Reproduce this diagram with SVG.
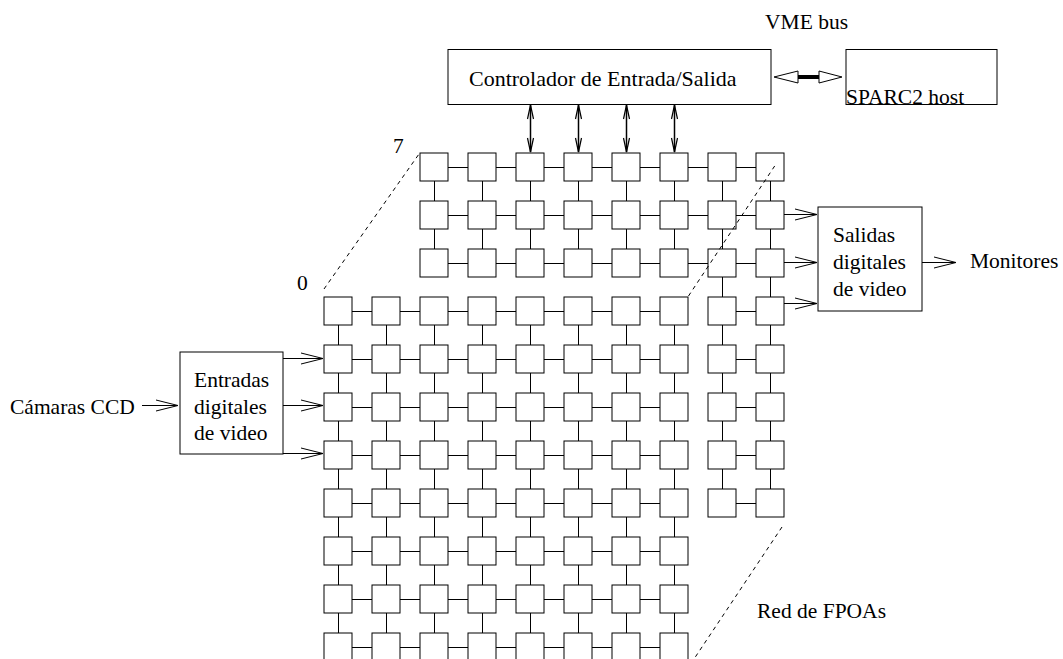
<svg xmlns="http://www.w3.org/2000/svg" width="1063" height="659" viewBox="0 0 1063 659">
  <style>
    .t { font-family: "Liberation Serif", "Times New Roman", serif; font-size: 21.5px; fill: #000; }
    .box { fill: #fff; stroke: #000; stroke-width: 1; }
    .cell { fill: #fff; stroke: #000; stroke-width: 1; }
    .link { fill: none; stroke: #000; stroke-width: 1; }
    .arrow { fill: none; stroke: #000; stroke-width: 1; marker-end: url(#open); }
    .bi { fill: none; stroke: #000; stroke-width: 1.5; marker-start: url(#tip); marker-end: url(#tip); }
    .dash { fill: none; stroke: #000; stroke-width: 1; stroke-dasharray: 4 4; }
    .head { fill: #fff; stroke: #000; stroke-width: 1; }
  </style>
  <defs>
    <marker id="open" markerWidth="24" markerHeight="14" refX="22" refY="6" orient="auto" markerUnits="userSpaceOnUse" overflow="visible">
      <path d="M0,0.5 L22,6 L0,11.5" fill="none" stroke="#000" stroke-width="1"/>
    </marker>
    <marker id="tip" markerWidth="16" markerHeight="8" refX="14" refY="3" orient="auto-start-reverse" markerUnits="userSpaceOnUse" overflow="visible">
      <path d="M0,0 L14,3 L0,6" fill="none" stroke="#000" stroke-width="1.2"/>
    </marker>
  </defs>
  <rect width="1063" height="659" fill="#fff"/>

  <!-- grid links and signal arrows -->
  <g id="connectors">
    <!-- front plane links -->
    <path class="link" d="M338,311.5H674 M338,359.5H674 M338,407.5H674 M338,455.5H674 M338,503.5H674 M338,551.5H674 M338,599.5H674 M338,647.5H674"/>
    <path class="link" d="M338.5,311V670 M386.5,311V670 M434.5,311V670 M482.5,311V670 M530.5,311V670 M578.5,311V670 M626.5,311V670 M674.5,311V670"/>
    <!-- back plane links -->
    <path class="link" d="M434,167.5H770 M434,215.5H770 M434,263.5H770 M722,311.5H770 M722,359.5H770 M722,407.5H770 M722,455.5H770 M722,503.5H770"/>
    <path class="link" d="M434.5,167V263 M482.5,167V263 M530.5,167V263 M578.5,167V263 M626.5,167V263 M674.5,167V263 M722.5,167V503 M770.5,167V503"/>

    <!-- controller to grid -->
    <line class="bi" x1="530.5" y1="105" x2="530.5" y2="152"/>
    <line class="bi" x1="578.5" y1="105" x2="578.5" y2="152"/>
    <line class="bi" x1="626.5" y1="105" x2="626.5" y2="152"/>
    <line class="bi" x1="674.5" y1="105" x2="674.5" y2="152"/>

    <!-- VME bus -->
    <line x1="797" y1="77" x2="820" y2="77" stroke="#000" stroke-width="4"/>
    <polygon class="head" points="774,77 798,71 798,83"/>
    <polygon class="head" points="842,77 819,71 819,83"/>

    <!-- inputs -->
    <line class="arrow" x1="142" y1="405.5" x2="178" y2="405.5"/>
    <line class="arrow" x1="283" y1="358.5" x2="323" y2="358.5"/>
    <line class="arrow" x1="283" y1="405.5" x2="323" y2="405.5"/>
    <line class="arrow" x1="283" y1="453.5" x2="323" y2="453.5"/>

    <!-- outputs -->
    <line class="arrow" x1="784" y1="214.5" x2="817" y2="214.5"/>
    <line class="arrow" x1="784" y1="262.5" x2="817" y2="262.5"/>
    <line class="arrow" x1="784" y1="303.5" x2="817" y2="303.5"/>
    <line class="arrow" x1="922" y1="262.5" x2="956" y2="262.5"/>
  </g>

  <!-- back plane cells -->
  <g id="back">
    <g id="b00"><rect class="cell" x="420" y="153" width="28" height="28"/></g>
    <g id="b10"><rect class="cell" x="468" y="153" width="28" height="28"/></g>
    <g id="b20"><rect class="cell" x="516" y="153" width="28" height="28"/></g>
    <g id="b30"><rect class="cell" x="564" y="153" width="28" height="28"/></g>
    <g id="b40"><rect class="cell" x="612" y="153" width="28" height="28"/></g>
    <g id="b50"><rect class="cell" x="660" y="153" width="28" height="28"/></g>
    <g id="b60"><rect class="cell" x="708" y="153" width="28" height="28"/></g>
    <g id="b70"><rect class="cell" x="756" y="153" width="28" height="28"/></g>
    <g id="b01"><rect class="cell" x="420" y="201" width="28" height="28"/></g>
    <g id="b11"><rect class="cell" x="468" y="201" width="28" height="28"/></g>
    <g id="b21"><rect class="cell" x="516" y="201" width="28" height="28"/></g>
    <g id="b31"><rect class="cell" x="564" y="201" width="28" height="28"/></g>
    <g id="b41"><rect class="cell" x="612" y="201" width="28" height="28"/></g>
    <g id="b51"><rect class="cell" x="660" y="201" width="28" height="28"/></g>
    <g id="b61"><rect class="cell" x="708" y="201" width="28" height="28"/></g>
    <g id="b71"><rect class="cell" x="756" y="201" width="28" height="28"/></g>
    <g id="b02"><rect class="cell" x="420" y="249" width="28" height="28"/></g>
    <g id="b12"><rect class="cell" x="468" y="249" width="28" height="28"/></g>
    <g id="b22"><rect class="cell" x="516" y="249" width="28" height="28"/></g>
    <g id="b32"><rect class="cell" x="564" y="249" width="28" height="28"/></g>
    <g id="b42"><rect class="cell" x="612" y="249" width="28" height="28"/></g>
    <g id="b52"><rect class="cell" x="660" y="249" width="28" height="28"/></g>
    <g id="b62"><rect class="cell" x="708" y="249" width="28" height="28"/></g>
    <g id="b72"><rect class="cell" x="756" y="249" width="28" height="28"/></g>
    <g id="b63"><rect class="cell" x="708" y="297" width="28" height="28"/></g>
    <g id="b73"><rect class="cell" x="756" y="297" width="28" height="28"/></g>
    <g id="b64"><rect class="cell" x="708" y="345" width="28" height="28"/></g>
    <g id="b74"><rect class="cell" x="756" y="345" width="28" height="28"/></g>
    <g id="b65"><rect class="cell" x="708" y="393" width="28" height="28"/></g>
    <g id="b75"><rect class="cell" x="756" y="393" width="28" height="28"/></g>
    <g id="b66"><rect class="cell" x="708" y="441" width="28" height="28"/></g>
    <g id="b76"><rect class="cell" x="756" y="441" width="28" height="28"/></g>
    <g id="b67"><rect class="cell" x="708" y="489" width="28" height="28"/></g>
    <g id="b77"><rect class="cell" x="756" y="489" width="28" height="28"/></g>
  </g>

  <!-- front plane cells -->
  <g id="front">
    <g id="f00"><rect class="cell" x="324" y="297" width="28" height="28"/></g>
    <g id="f10"><rect class="cell" x="372" y="297" width="28" height="28"/></g>
    <g id="f20"><rect class="cell" x="420" y="297" width="28" height="28"/></g>
    <g id="f30"><rect class="cell" x="468" y="297" width="28" height="28"/></g>
    <g id="f40"><rect class="cell" x="516" y="297" width="28" height="28"/></g>
    <g id="f50"><rect class="cell" x="564" y="297" width="28" height="28"/></g>
    <g id="f60"><rect class="cell" x="612" y="297" width="28" height="28"/></g>
    <g id="f70"><rect class="cell" x="660" y="297" width="28" height="28"/></g>
    <g id="f01"><rect class="cell" x="324" y="345" width="28" height="28"/></g>
    <g id="f11"><rect class="cell" x="372" y="345" width="28" height="28"/></g>
    <g id="f21"><rect class="cell" x="420" y="345" width="28" height="28"/></g>
    <g id="f31"><rect class="cell" x="468" y="345" width="28" height="28"/></g>
    <g id="f41"><rect class="cell" x="516" y="345" width="28" height="28"/></g>
    <g id="f51"><rect class="cell" x="564" y="345" width="28" height="28"/></g>
    <g id="f61"><rect class="cell" x="612" y="345" width="28" height="28"/></g>
    <g id="f71"><rect class="cell" x="660" y="345" width="28" height="28"/></g>
    <g id="f02"><rect class="cell" x="324" y="393" width="28" height="28"/></g>
    <g id="f12"><rect class="cell" x="372" y="393" width="28" height="28"/></g>
    <g id="f22"><rect class="cell" x="420" y="393" width="28" height="28"/></g>
    <g id="f32"><rect class="cell" x="468" y="393" width="28" height="28"/></g>
    <g id="f42"><rect class="cell" x="516" y="393" width="28" height="28"/></g>
    <g id="f52"><rect class="cell" x="564" y="393" width="28" height="28"/></g>
    <g id="f62"><rect class="cell" x="612" y="393" width="28" height="28"/></g>
    <g id="f72"><rect class="cell" x="660" y="393" width="28" height="28"/></g>
    <g id="f03"><rect class="cell" x="324" y="441" width="28" height="28"/></g>
    <g id="f13"><rect class="cell" x="372" y="441" width="28" height="28"/></g>
    <g id="f23"><rect class="cell" x="420" y="441" width="28" height="28"/></g>
    <g id="f33"><rect class="cell" x="468" y="441" width="28" height="28"/></g>
    <g id="f43"><rect class="cell" x="516" y="441" width="28" height="28"/></g>
    <g id="f53"><rect class="cell" x="564" y="441" width="28" height="28"/></g>
    <g id="f63"><rect class="cell" x="612" y="441" width="28" height="28"/></g>
    <g id="f73"><rect class="cell" x="660" y="441" width="28" height="28"/></g>
    <g id="f04"><rect class="cell" x="324" y="489" width="28" height="28"/></g>
    <g id="f14"><rect class="cell" x="372" y="489" width="28" height="28"/></g>
    <g id="f24"><rect class="cell" x="420" y="489" width="28" height="28"/></g>
    <g id="f34"><rect class="cell" x="468" y="489" width="28" height="28"/></g>
    <g id="f44"><rect class="cell" x="516" y="489" width="28" height="28"/></g>
    <g id="f54"><rect class="cell" x="564" y="489" width="28" height="28"/></g>
    <g id="f64"><rect class="cell" x="612" y="489" width="28" height="28"/></g>
    <g id="f74"><rect class="cell" x="660" y="489" width="28" height="28"/></g>
    <g id="f05"><rect class="cell" x="324" y="537" width="28" height="28"/></g>
    <g id="f15"><rect class="cell" x="372" y="537" width="28" height="28"/></g>
    <g id="f25"><rect class="cell" x="420" y="537" width="28" height="28"/></g>
    <g id="f35"><rect class="cell" x="468" y="537" width="28" height="28"/></g>
    <g id="f45"><rect class="cell" x="516" y="537" width="28" height="28"/></g>
    <g id="f55"><rect class="cell" x="564" y="537" width="28" height="28"/></g>
    <g id="f65"><rect class="cell" x="612" y="537" width="28" height="28"/></g>
    <g id="f75"><rect class="cell" x="660" y="537" width="28" height="28"/></g>
    <g id="f06"><rect class="cell" x="324" y="585" width="28" height="28"/></g>
    <g id="f16"><rect class="cell" x="372" y="585" width="28" height="28"/></g>
    <g id="f26"><rect class="cell" x="420" y="585" width="28" height="28"/></g>
    <g id="f36"><rect class="cell" x="468" y="585" width="28" height="28"/></g>
    <g id="f46"><rect class="cell" x="516" y="585" width="28" height="28"/></g>
    <g id="f56"><rect class="cell" x="564" y="585" width="28" height="28"/></g>
    <g id="f66"><rect class="cell" x="612" y="585" width="28" height="28"/></g>
    <g id="f76"><rect class="cell" x="660" y="585" width="28" height="28"/></g>
    <g id="f07"><rect class="cell" x="324" y="633" width="28" height="28"/></g>
    <g id="f17"><rect class="cell" x="372" y="633" width="28" height="28"/></g>
    <g id="f27"><rect class="cell" x="420" y="633" width="28" height="28"/></g>
    <g id="f37"><rect class="cell" x="468" y="633" width="28" height="28"/></g>
    <g id="f47"><rect class="cell" x="516" y="633" width="28" height="28"/></g>
    <g id="f57"><rect class="cell" x="564" y="633" width="28" height="28"/></g>
    <g id="f67"><rect class="cell" x="612" y="633" width="28" height="28"/></g>
    <g id="f77"><rect class="cell" x="660" y="633" width="28" height="28"/></g>
  </g>

  <!-- perspective edges of the FPOA array -->
  <g id="edges">
    <line class="dash" x1="324" y1="289" x2="419" y2="154"/>
    <line class="dash" x1="688.5" y1="296" x2="776" y2="164"/>
    <line class="dash" x1="782" y1="527" x2="692" y2="662"/>
  </g>

  <!-- blocks -->
  <g id="controller">
    <rect class="box" x="448" y="49.5" width="323" height="55"/>
    <text class="t" x="469" y="86" style="font-size:22px">Controlador de Entrada/Salida</text>
  </g>
  <g id="sparc">
    <rect class="box" x="846" y="49.5" width="151" height="55"/>
    <text class="t" x="846" y="104">SPARC2 host</text>
  </g>
  <g id="vme-label">
    <text class="t" x="765" y="29">VME bus</text>
  </g>
  <g id="entradas">
    <rect class="box" x="180" y="352" width="103" height="102"/>
    <text class="t" x="194" y="387">Entradas</text>
    <text class="t" x="194" y="413.5">digitales</text>
    <text class="t" x="194" y="440">de video</text>
  </g>
  <g id="camaras">
    <text class="t" x="10" y="413.5">Cámaras CCD</text>
  </g>
  <g id="salidas">
    <rect class="box" x="818" y="207" width="104" height="104"/>
    <text class="t" x="833" y="242">Salidas</text>
    <text class="t" x="833" y="269">digitales</text>
    <text class="t" x="833" y="296">de video</text>
  </g>
  <g id="monitores">
    <text class="t" x="970" y="268">Monitores</text>
  </g>
  <g id="labels">
    <text class="t" x="393" y="153">7</text>
    <text class="t" x="297" y="290">0</text>
    <text class="t" x="757" y="618">Red de FPOAs</text>
  </g>
</svg>
